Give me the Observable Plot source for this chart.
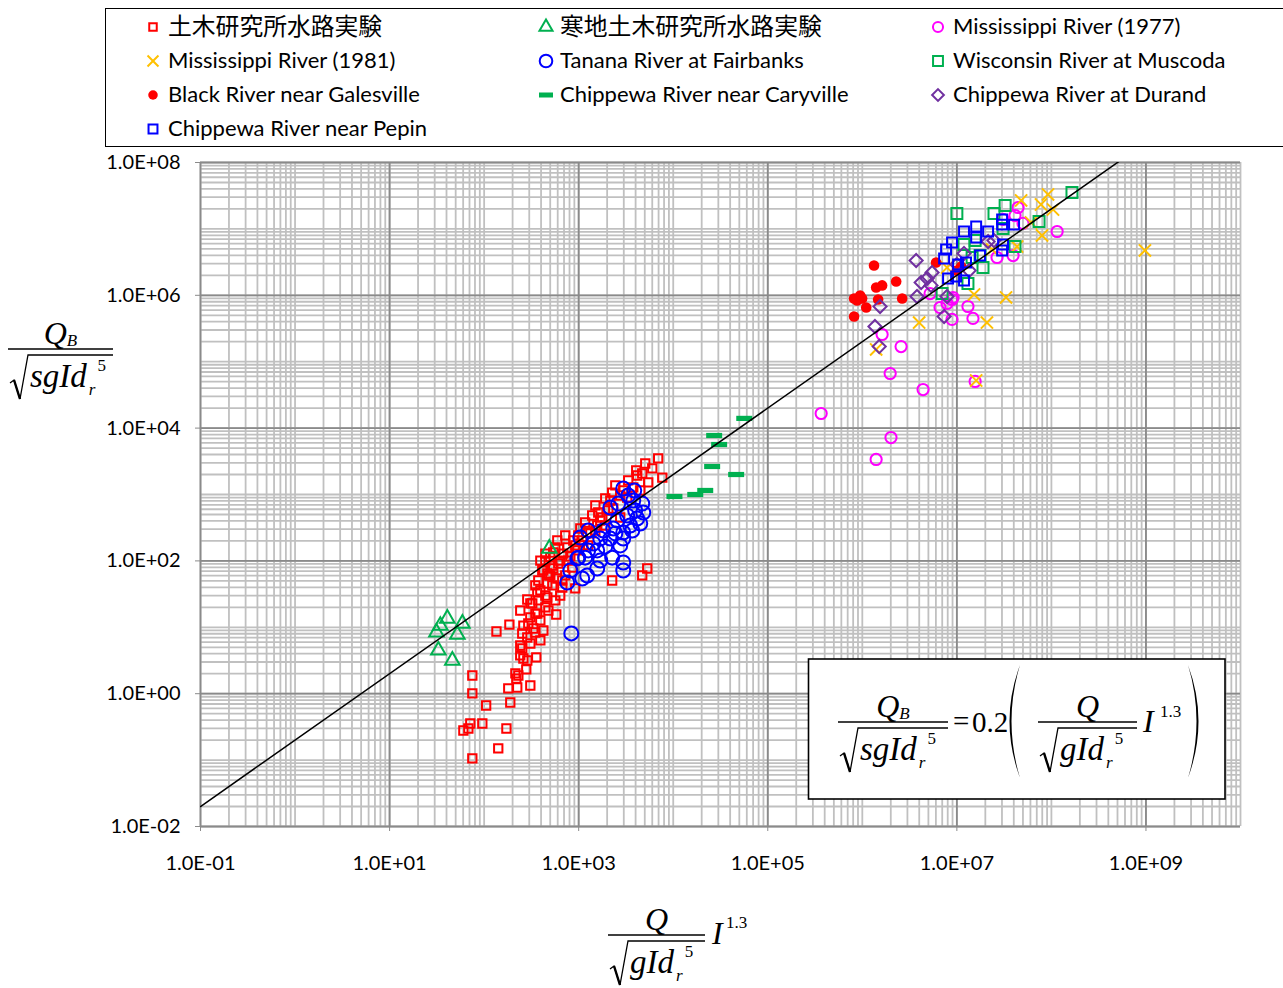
<!DOCTYPE html>
<html><head><meta charset="utf-8">
<script src="https://cdn.jsdelivr.net/npm/d3@7"></script>
<script src="https://cdn.jsdelivr.net/npm/@observablehq/plot@0.6"></script>
<style>
body{margin:0;background:#fff;}
#wrap{position:relative;width:1283px;height:988px;overflow:hidden;font-family:Lato,"Noto Sans CJK JP",sans-serif;background:#fff;}
#wrap > svg{position:absolute;left:0;top:0;}
.legbox{position:absolute;left:105px;top:8px;width:1185px;height:139px;border:1.5px solid #000;box-sizing:border-box;background:#fff;}
.li{position:absolute;font-size:22px;line-height:24px;color:#000;white-space:nowrap;}
.li.cjk{font-size:23.8px;font-family:"Noto Sans CJK JP",sans-serif;}
</style></head>
<body><div id="wrap"></div>
<script>
// ---------------- data ----------------
const seriesNames = ["土木研究所水路実験","寒地土木研究所水路実験","Mississippi River (1977)",
  "Mississippi River (1981)","Tanana River at Fairbanks","Wisconsin River at Muscoda",
  "Black River near Galesville","Chippewa River near Caryville","Chippewa River at Durand",
  "Chippewa River near Pepin"];

const pwriFlume = [[75,1.88],[75,1.01],[105,0.665],[189,0.738],[71.4,0.356],[60.3,0.279],[68.1,0.299],[95.7,0.356],[172,0.299],[141,0.150],[75,0.106],[135,8.65],[185,11.0],[180,1.20],[224,1.24],[308,1.33],[219,1.69],[214,2.02],[279,2.32],[230,1.88],[356,3.52],[241,3.77],[286,3.16],[260,3.39],[241,5.32],[308,5.70],[253,4.80],[253,8.07],[260,10.6],[348,8.36],[293,11.4],[393,12.7],[365,16.1],[241,17.9],[308,14.1],[348,16.1],[579,15.6],[423,8.95],[444,19.9],[286,26.2],[323,22.9],[365,33.5],[466,28.1],[638,30.1],[526,42.7],[374,50.7],[466,64.7],[538,76.9],[412,71.8],[920,38.5],[466,45.7],[393,35.9],[671,39.8],[423,71.8],[526,85.3],[608,91.4],[501,113],[687,129],[566,159],[757,159],[877,203],[966,144],[855,79.6],[1090,203],[1330,259],[1230,268],[1170,379],[1570,341],[1690,406],[1610,536],[1770,451],[2160,813],[2320,616],[2750,451],[2260,1070],[2750,966],[3260,902],[3780,1280],[2960,1150],[4160,1930],[4700,2070],[5440,1520],[4480,1150],[6000,2470],[6930,3490],[7660,1800],[2260,50.7],[4700,60.4],[5310,76.9],[594,54.3],[638,101],[444,101],[478,60.4],[721,60.4],[538,134],[920,171],[1040,308],[1390,483],[1910,341],[308,22.9],[374,25.4],[444,30.1],[331,9.6],[286,7.03],[393,6.34],[478,17.9],[566,25.4],[671,50.7],[815,117],[991,242],[1500,684],[1910,871],[2440,1370],[3340,1630],[4060,2300],[5060,2930],[776,101],[1120,171],[444,129],[393,101],[594,203],[721,242],[501,60.4],[348,42.7],[1500,287],[2060,574],[1260,171]];
const hokkaidoFlume = [[40.8,13.6],[34.4,10.6],[31.3,8.4],[58.9,11.4],[52.1,7.8],[32.8,4.5],[46.1,3.16],[489,154]];
const mississippi1977 = [[3.67e5,1.66e4],[1.40e6,3.37e3],[2.01e6,7.21e3],[4.39e6,3.81e4],[1.97e6,6.64e4],[2.57e6,1.69e5],[1.62e6,2.57e5],[1.56e7,5.04e4],[8.89e6,4.33e5],[1.48e7,4.48e5],[1.31e7,6.78e5],[8.89e6,8.65e5],[6.64e6,6.55e5],[7.87e6,7.53e5],[5.21e6,1.06e6],[9.12e6,9.27e5],[2.66e7,3.71e6],[3.93e7,3.97e6],[1.15e8,9.14e6],[4.44e7,2.10e7],[5.01e7,1.21e7],[3.08e7,1.39e7],[4.12e7,1.59e7]];
const mississippi1981 = [[9.75e8,4.73e6],[4.78e7,2.68e7],[9.21e7,3.30e7],[7.76e7,2.33e7],[1.04e8,1.96e7],[7.96e7,7.96e6],[3.31e7,9.27e5],[1.52e7,1.03e6],[2.08e7,3.89e5],[3.99e6,3.89e5],[1.40e6,1.53e5],[1.60e7,5.21e4],[7.87e6,2.62e6],[2.36e7,4.90e6],[4.33e7,5.43e6],[6.08e7,1.25e7]];
const tananaFairbanks = [[2960,1230],[3870,1150],[2160,637],[2620,731],[3780,812],[4700,731],[4820,535],[4160,435],[3260,483],[2560,406],[2320,307],[3510,341],[4480,366],[2960,217],[2160,217],[1690,217],[1260,287],[1040,225],[3690,287],[2960,268],[2440,259],[1820,287],[1430,183],[1570,144],[1260,144],[991,112],[1170,112],[1690,101],[966,109],[815,71.6],[757,47.3],[1230,60.3],[1090,54.3],[1570,76.9],[2260,112],[2960,94.6],[2960,71.6],[836,8.1],[3960,574],[3340,966],[1910,165],[2750,171]];
const wisconsinMuscoda = [[1.65e8,3.53e7],[3.24e7,2.25e7],[1.0e7,1.71e7],[2.47e7,1.71e7],[7.40e7,1.29e7],[4.12e7,5.43e6],[1.89e7,2.62e6],[1.31e7,1.51e6],[6.98e6,1.06e6],[1.19e7,5.82e6],[1.56e7,6.68e6],[1.76e7,3.97e6],[3.08e7,1.01e7],[1.45e7,3.71e6]];
const blackGalesville = [[1.33e6,2.81e6],[2.28e6,1.61e6],[1.62e6,1.41e6],[1.40e6,1.31e6],[9.49e5,9.93e5],[8.81e5,8.35e5],[8.18e5,8.95e5],[1.47e6,8.65e5],[2.64e6,8.95e5],[1.10e6,6.55e5],[8.18e5,4.80e5],[6.03e6,3.12e6],[1.0e7,2.36e6],[1.11e7,2.72e6],[9.95e5,8.95e5]];
const chippewaCaryville = [[5.64e4,1.40e4],[2.71e4,7.74e3],[3.06e4,5.66e3],[2.58e4,2.64e3],[4.63e4,2.0e3],[2.18e4,1.15e3],[1.71e4,1.0e3],[1.03e4,933]];
const chippewaDurand = [[3.71e6,3.34e6],[5.47e6,2.20e6],[4.19e6,1.56e6],[5.33e6,1.41e6],[3.79e6,9.59e5],[1.54e6,6.78e5],[1.36e6,3.39e5],[1.51e6,1.69e5],[7.33e6,4.80e5],[7.87e6,9.59e5],[1.19e7,4.27e6],[1.35e7,2.36e6],[2.14e7,6.46e6],[2.47e7,6.68e6],[1.0e7,2.91e6],[4.84e6,1.79e6]];
const chippewaPepin = [[1.19e7,9.14e6],[1.60e7,1.09e7],[2.14e7,9.14e6],[1.60e7,7.41e6],[8.89e6,6.24e6],[7.69e6,4.90e6],[7.33e6,3.58e6],[1.03e7,2.91e6],[1.25e7,3.12e6],[8.07e6,1.79e6],[9.82e6,1.92e6],[1.19e7,1.67e6],[1.76e7,3.97e6],[3.01e7,1.39e7],[3.01e7,1.16e7],[4.03e7,1.16e7],[3.08e7,5.82e6],[3.01e7,4.73e6]];

const xTickValues = [1e-1,1e1,1e3,1e5,1e7,1e9];
const xTickLabels = ["1.0E-01","1.0E+01","1.0E+03","1.0E+05","1.0E+07","1.0E+09"];
const yTickValues = [1e-2,1e0,1e2,1e4,1e6,1e8];
const yTickLabels = ["1.0E-02","1.0E+00","1.0E+02","1.0E+04","1.0E+06","1.0E+08"];
const xDomain = [1e-1, 1e10];
const yDomain = [1e-2, 1e8];
const fitCoef = 0.2;   // Q_B/... = 0.2 (Q/... I^1.3)

// ---------------- styles ----------------
const seriesData = [pwriFlume, hokkaidoFlume, mississippi1977, mississippi1981, tananaFairbanks,
  wisconsinMuscoda, blackGalesville, chippewaCaryville, chippewaDurand, chippewaPepin];
const dashSymbol = {draw(ctx){ ctx.rect(-8,-2.6,16,5.2); }};
const styles = [
  {symbol:"square",   color:"#ff0000", r:4.7, filled:false},
  {symbol:"triangle", color:"#00b050", r:5.4, filled:false},
  {symbol:"circle",   color:"#ff00ff", r:5.6, filled:false},
  {symbol:"times",    color:"#ffc000", r:5.6, filled:false},
  {symbol:"circle",   color:"#0000ff", r:7.0, filled:false},
  {symbol:"square",   color:"#00b050", r:6.2, filled:false},
  {symbol:"circle",   color:"#ff0000", r:5.3, filled:true},
  {symbol:dashSymbol, color:"#00b050", r:5,   filled:true, dash:true},
  {symbol:"diamond2", color:"#7030a0", r:5.9, filled:false},
  {symbol:"square",   color:"#0000ff", r:5.6, filled:false}
];

// grid values (axis structure)
const xGrid = [], yGrid = [];
for (let e = -1; e <= 9; e++) for (let k = 1; k <= 9; k++) xGrid.push(k * Math.pow(10, e));
xGrid.push(1e10);
for (let e = -2; e <= 7; e++) for (let k = 1; k <= 9; k++) yGrid.push(k * Math.pow(10, e));
yGrid.push(1e8);

const fitLine = xDomain.map(x => ({x, y: fitCoef * x}));

const dotMarks = seriesData.map((data, i) => {
  const s = styles[i];
  return Plot.dot(data, {
    x: d => d[0], y: d => d[1], symbol: s.symbol, r: s.r,
    fill: s.filled ? s.color : "none",
    stroke: s.filled ? "none" : s.color,
    strokeWidth: 2
  });
});

const chart = Plot.plot({
  width: 1283, height: 988,
  marginLeft: 200, marginRight: 43, marginTop: 162, marginBottom: 162,
  style: {fontFamily: "Lato, sans-serif", fontSize: "20px", color: "#000", background: "transparent"},
  x: {type: "log", domain: xDomain},
  y: {type: "log", domain: yDomain},
  marks: [
    Plot.ruleX(xGrid, {stroke: "#c0c0c0", strokeWidth: 1.8}),
    Plot.ruleY(yGrid, {stroke: "#c0c0c0", strokeWidth: 1.8}),
    Plot.ruleX(xTickValues, {stroke: "#8a8a8a", strokeWidth: 1.8}),
    Plot.ruleY(yTickValues, {stroke: "#8a8a8a", strokeWidth: 1.8}),
    Plot.axisX({ticks: xTickValues, tickFormat: d => xTickLabels[xTickValues.indexOf(d)], tickSize: 5, tickPadding: 24, stroke: "#8a8a8a", label: null, fontSize: 20}),
    Plot.axisY({ticks: yTickValues, tickFormat: d => yTickLabels[yTickValues.indexOf(d)], tickSize: 5, tickPadding: 15, stroke: "#8a8a8a", label: null, fontSize: 20}),
    ...dotMarks,
    Plot.line(fitLine, {x: "x", y: "y", stroke: "#000", strokeWidth: 1.5, clip: true})
  ]
});
const wrap = document.getElementById("wrap");
wrap.appendChild(chart);

// ---------------- legend ----------------
d3.select(wrap).append("div").attr("class", "legbox");
const legMarkerX = [153, 546, 938], legTextX = [168, 560, 953], legRowY = [27, 61, 95, 129];
const d3Sym = {square: d3.symbolSquare, triangle: d3.symbolTriangle, circle: d3.symbolCircle, times: d3.symbolTimes, diamond2: d3.symbolDiamond2};
seriesNames.forEach((name, i) => {
  const s = styles[i], row = Math.floor(i / 3), col = i % 3;
  const mx = legMarkerX[col], my = legRowY[row];
  const svg = d3.select(wrap).append("svg").attr("width", 24).attr("height", 24)
    .style("left", (mx - 12) + "px").style("top", (my - 12) + "px");
  const g = svg.append("g").attr("transform", "translate(12,12)");
  const lr = s.r * 0.9;
  if (s.dash) g.append("rect").attr("x", -7).attr("y", -2.5).attr("width", 14).attr("height", 5).attr("fill", s.color);
  else g.append("path").attr("d", d3.symbol(d3Sym[s.symbol], lr * lr * Math.PI)())
    .attr("fill", s.filled ? s.color : "none").attr("stroke", s.filled ? "none" : s.color).attr("stroke-width", 2);
  const isCJK = /[\u3000-\u9fff]/.test(name);
  d3.select(wrap).append("div").attr("class", "li" + (isCJK ? " cjk" : ""))
    .style("left", legTextX[col] + "px").style("top", (my - 13 - (isCJK ? 1 : 0)) + "px").text(name);
});

// ---------------- formulas ----------------
const ov = d3.select(wrap).append("svg").attr("width", 1283).attr("height", 988)
  .style("pointer-events", "none").attr("font-family", "'Liberation Serif', 'Times New Roman', serif");

function fraction(g, x0, x1, yBar, num, numSub, rad) {
  const cx = (x0 + x1) / 2;
  const t = g.append("text").attr("x", cx).attr("y", yBar - 5).attr("text-anchor", "middle")
    .attr("font-size", 32).attr("font-style", "italic");
  t.append("tspan").text(num);
  if (numSub) t.append("tspan").attr("font-size", 17).attr("dy", 2).text(numSub);
  g.append("line").attr("x1", x0).attr("x2", x1).attr("y1", yBar).attr("y2", yBar).attr("stroke", "#000").attr("stroke-width", 1.3);
  const rt = yBar + 6, rb = yBar + 50;
  g.append("path").attr("d", `M${x0+2},${rt+28} L${x0+6},${rt+25} L${x0+12},${rb} L${x0+20},${rt} L${x1},${rt}`)
    .attr("fill", "none").attr("stroke", "#000").attr("stroke-width", 1.3).attr("stroke-linejoin", "miter");
  g.append("path").attr("d", `M${x0+6},${rt+25} L${x0+12},${rb}`).attr("stroke", "#000").attr("stroke-width", 2.4);
  const r = g.append("text").attr("x", x0 + 22).attr("y", yBar + 38).attr("font-size", 33).attr("font-style", "italic");
  r.append("tspan").text(rad);
  r.append("tspan").attr("font-size", 17).attr("dx", 2).attr("dy", 8).text("r");
  r.append("tspan").attr("font-size", 17).attr("font-style", "normal").attr("dx", 2).attr("dy", -24).text("5");
}

// y-axis title
fraction(ov.append("g"), 8, 113, 349, "Q", "B", "sgId");
// x-axis title
const gx = ov.append("g");
fraction(gx, 608, 705, 935, "Q", null, "gId");
gx.append("text").attr("x", 712).attr("y", 944).attr("font-size", 32).attr("font-style", "italic").text("I");
gx.append("text").attr("x", 726).attr("y", 928).attr("font-size", 17).text("1.3");

// equation box
const ge = ov.append("g");
ge.append("rect").attr("x", 808.5).attr("y", 659).attr("width", 416.5).attr("height", 140)
  .attr("fill", "#fff").attr("stroke", "#000").attr("stroke-width", 1.6);
fraction(ge, 838, 948, 722, "Q", "B", "sgId");
ge.append("text").attr("x", 953).attr("y", 731).attr("font-size", 29).text("=");
ge.append("text").attr("x", 972).attr("y", 732).attr("font-size", 29).text("0.2");
ge.append("path").attr("d", "M1020,665 Q999,721 1020,778 Q1003,721 1020,665 Z").attr("fill", "#000");
ge.append("path").attr("d", "M1188,665 Q1209,721 1188,778 Q1205,721 1188,665 Z").attr("fill", "#000");
fraction(ge, 1038, 1137, 722, "Q", null, "gId");
ge.append("text").attr("x", 1143).attr("y", 732).attr("font-size", 32).attr("font-style", "italic").text("I");
ge.append("text").attr("x", 1160).attr("y", 717).attr("font-size", 17).text("1.3");
</script>
</body></html>
